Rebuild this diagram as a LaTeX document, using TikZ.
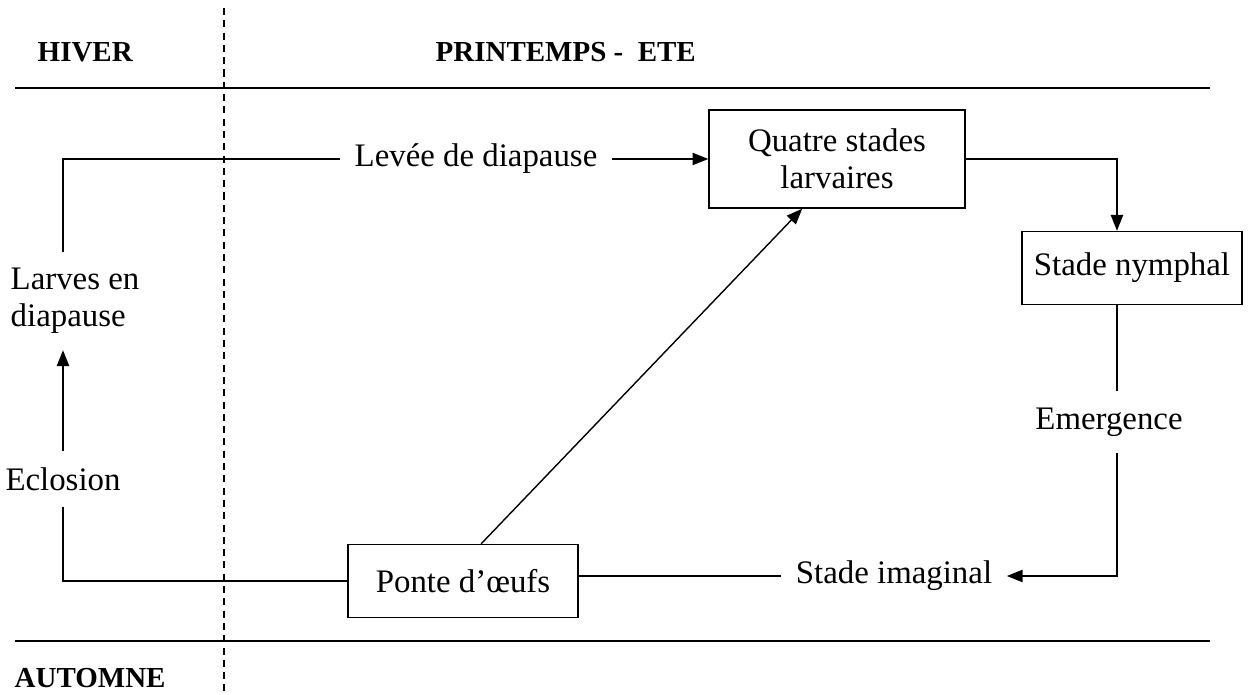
\documentclass[tikz,border=0pt]{standalone}
\usepackage{fontspec}
\setmainfont{Liberation Serif}
\usetikzlibrary{arrows.meta}

\begin{document}
\begin{tikzpicture}[x=0.02cm,y=-0.02cm,>={Triangle[length=9pt,width=7pt]},line width=0.8pt,
    font=\fontsize{18.7}{21}\selectfont]
  \tikzstyle{stade}=[draw,rectangle,align=center,inner sep=0pt]
  \tikzstyle{etiquette}=[align=left,inner xsep=8pt,inner ysep=9pt]
  \tikzstyle{saison}=[font=\fontsize{16.5}{20}\selectfont\bfseries,inner sep=0pt,anchor=west]
  \useasboundingbox (0,0) rectangle (1251,695);

  % saisons et separations
  \node[saison] (hiver)     at (37,52)  {HIVER};
  \node[saison] (printemps) at (435,52) {PRINTEMPS -\ \ ETE};
  \node[saison] (automne)   at (14,678) {AUTOMNE};
  \draw[line width=1pt] (15,88) -- (1210,88);
  \draw[line width=1pt] (15,641) -- (1210,641);
  \draw[dash pattern=on 4pt off 3pt] (224,8) -- (224,695);

  % stades du cycle
  \node[stade,minimum width=5.12cm,minimum height=1.96cm] (quatre)  at (837,159)  {Quatre stades\\larvaires};
  \node[stade,minimum width=4.4cm,minimum height=1.46cm]  (nymphal) at (1132,268) {Stade nymphal};
  \node[stade,minimum width=4.6cm,minimum height=1.46cm]  (ponte)   at (463,581)  {Ponte d'\oe ufs};

  \node[etiquette] (levee)     at (476,159)  {Lev\'ee de diapause};
  \node[etiquette,anchor=west,inner xsep=0pt] (larves) at (10,301) {Larves en\\diapause};
  \node[etiquette] (eclosion)  at (63,479)   {Eclosion};
  \node[etiquette] (emergence) at (1109,422) {Emergence};
  \node[etiquette] (imaginal)  at (894,576)  {Stade imaginal};

  % liaisons
  \draw (eclosion |- larves.north) |- (levee.west);
  \draw[->] (levee.east) -- (quatre.west);
  \draw[->] (quatre.east) -| (nymphal.112);
  \draw (nymphal.248) -- (nymphal.248 |- emergence.north);
  \draw[->] (nymphal.248 |- emergence.south) |- (imaginal.east);
  \draw (imaginal.west) -- (imaginal.west -| ponte.east);
  \draw (ponte.west) -| (eclosion.south);
  \draw[->] (eclosion.north) -- (eclosion |- larves.south);
  \draw[->] (ponte.64) -- (quatre.235);
\end{tikzpicture}
\end{document}
